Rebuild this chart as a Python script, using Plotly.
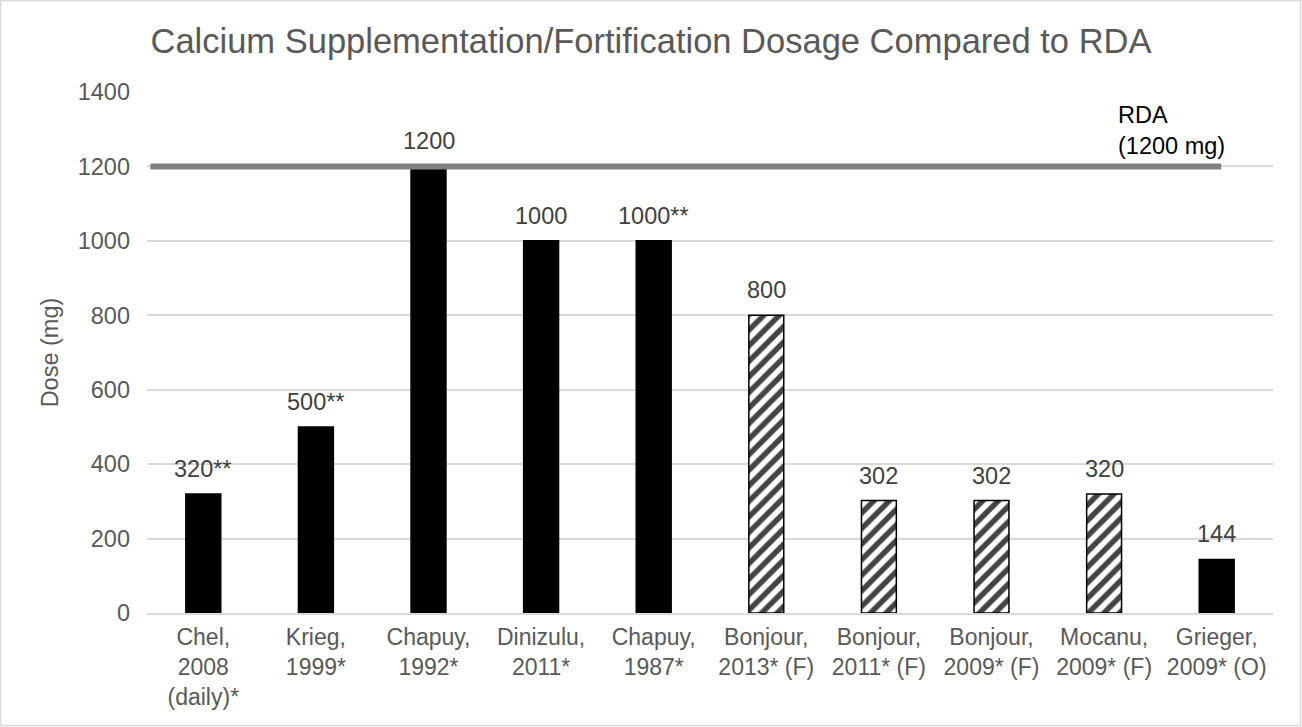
import plotly.graph_objects as go

# Studies, dose per study (mg) and the value labels shown above each bar
studies = [
    "Chel,<br>2008<br>(daily)*",
    "Krieg,<br>1999*",
    "Chapuy,<br>1992*",
    "Dinizulu,<br>2011*",
    "Chapuy,<br>1987*",
    "Bonjour,<br>2013* (F)",
    "Bonjour,<br>2011* (F)",
    "Bonjour,<br>2009* (F)",
    "Mocanu,<br>2009* (F)",
    "Grieger,<br>2009* (O)",
]
doses = [320, 500, 1200, 1000, 1000, 800, 302, 302, 320, 144]
dose_labels = ["320**", "500**", "1200", "1000", "1000**", "800", "302", "302", "320", "144"]
fortified = [False, False, False, False, False, True, True, True, True, False]

rda_value = 1200
rda_label = "RDA<br>(1200 mg)"

y_ticks = [0, 200, 400, 600, 800, 1000, 1200, 1400]

FONT = "Liberation Sans, Arial, sans-serif"
FS = 23.5

W, H = 1302, 727
ML, MR, MT, MB = 147, 29, 92, 114
PW, PH = W - ML - MR, H - MT - MB

fig = go.Figure()

fig.add_trace(go.Bar(
    x=studies,
    y=doses,
    width=0.31,
    marker=dict(
        color=["white" if f else "black" for f in fortified],
        line=dict(color="black", width=1.5),
        pattern=dict(
            shape=["/" if f else "" for f in fortified],
            fgcolor="black",
            fgopacity=1,
            bgcolor="white",
            size=11,
            solidity=0.5,
        ),
    ),
    hoverinfo="x+y",
    showlegend=False,
))

# Value labels above bars
for s, d, lab in zip(studies, doses, dose_labels):
    fig.add_annotation(
        x=s, y=d, text=lab, showarrow=False,
        xanchor="center", yanchor="bottom", yshift=10,
        font=dict(family=FONT, size=FS, color="#404040"),
    )

# RDA reference line
fig.add_shape(
    type="line", xref="x", yref="y",
    x0=-0.47, x1=9.04, y0=rda_value, y1=rda_value,
    line=dict(color="#808080", width=6),
)
fig.add_annotation(
    x=8.11, y=rda_value, xref="x", yref="y",
    text=rda_label, showarrow=False, align="left",
    xanchor="left", yanchor="bottom", yshift=5,
    font=dict(family=FONT, size=FS, color="#000000"),
)

# Outer chart border
fig.add_shape(
    type="rect", xref="paper", yref="paper",
    x0=-(ML - 0.5) / PW, x1=1 + (MR - 1.5) / PW,
    y0=-(MB - 1.5) / PH, y1=1 + (MT - 0.5) / PH,
    line=dict(color="#d9d9d9", width=1.5),
    layer="above",
)

fig.update_layout(
    width=W, height=H,
    margin=dict(l=ML, r=MR, t=MT, b=MB),
    paper_bgcolor="white",
    plot_bgcolor="white",
    font=dict(family=FONT, size=FS, color="#595959"),
    title=dict(
        text="Calcium Supplementation/Fortification Dosage Compared to RDA",
        x=0.5, xref="container", xanchor="center",
        y=1 - 41 / H, yref="container", yanchor="middle",
        font=dict(family=FONT, size=34.5, color="#595959"),
    ),
    bargap=0.69,
    xaxis=dict(
        type="category",
        showgrid=False,
        showline=True,
        linecolor="#d9d9d9",
        linewidth=1.5,
        ticks="",
        tickfont=dict(family=FONT, size=23, color="#595959"),
        ticklabelstandoff=3,
    ),
    yaxis=dict(
        range=[0, 1400],
        tickvals=y_ticks,
        showgrid=True,
        gridcolor="#d9d9d9",
        gridwidth=1.5,
        zeroline=False,
        showline=False,
        ticks="",
        tickfont=dict(family=FONT, size=FS, color="#595959"),
        ticklabelstandoff=16,
        title=dict(
            text="Dose (mg)",
            font=dict(family=FONT, size=FS, color="#595959"),
            standoff=12,
        ),
    ),
)

fig.write_html("out.html")
